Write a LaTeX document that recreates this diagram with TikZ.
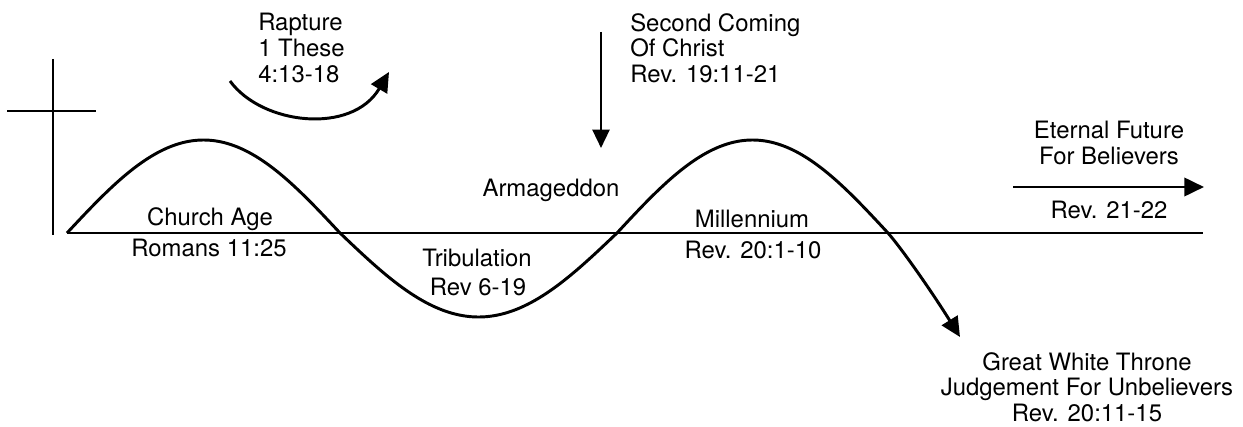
\documentclass[tikz,border=0pt]{standalone}
\usepackage{fontspec}
\setmainfont{TeX Gyre Heros}
\usetikzlibrary{arrows.meta}
\tikzset{
  lbl/.style={inner sep=0pt, font=\fontsize{17}{18.3}\selectfont, align=center},
  lbll/.style={lbl, align=left, anchor=west},
  thick line/.style={line width=2.1pt},
  tip/.style={-{Triangle[length=14pt,width=13pt]}}
}
\begin{document}
\begin{tikzpicture}[x=0.025cm,y=-0.025cm]
\useasboundingbox (0,0) rectangle (1243,427);
% cross
\draw[thick line] (53,59) -- (53,235);
\draw[thick line] (7,111) -- (96,111);
% baseline
\coordinate (b0) at (67,233);
\coordinate (b1) at (1203,233);
\draw[thick line] (b0) -- (b1);
% wave
\coordinate (gw) at (960,337);
\draw[thick line, tip, smooth, samples=60]
  plot[domain=67:340] (\x,{233-93*sin((\x-67)/273*180)})
  -- plot[domain=340:617] (\x,{233+84*sin((\x-340)/277*180)})
  -- plot[domain=617:888] (\x,{233-93*sin((\x-617)/271*180)})
  .. controls (902,249) and (932,292) .. (gw);
% rapture
\node[lbll] (rap) at (258,48) {Rapture\\1 These\\4:13-18};
\coordinate (r0) at (230,81);
\coordinate (r1) at (389,72);
\draw[thick line, tip] (r0) .. controls (262,125) and (352,135) .. (r1);
% second coming
\node[lbll] (sc) at (630,48) {Second Coming\\Of Christ\\Rev. 19:11-21};
\coordinate (s0) at (601,32);
\coordinate (s1) at (601,148);
\draw[line width=1.9pt, -{Triangle[length=13pt,width=12pt]}] (s0) -- (s1);
% labels
\node[lbl] (arm) at (551,190) {Armageddon};
\node[lbl] (ch) at (210,219) {Church Age};
\node[lbl] (rom) at (209,248) {Romans 11:25};
\node[lbl] (tr) at (477,258) {Tribulation};
\node[lbl] (tr2) at (478,287) {Rev 6-19};
\node[lbl] (mil) at (752,219) {Millennium};
\node[lbl] (mil2) at (753,250) {Rev. 20:1-10};
\node[lbl] (ef) at (1109,143) {Eternal Future\\For Believers};
\coordinate (e0) at (1013,187);
\coordinate (e1) at (1204,187);
\draw[thick line, tip] (e0) -- (e1);
\node[lbl] (ef2) at (1109,210) {Rev. 21-22};
\node[lbl] (gwt) at (1087,387) {Great White Throne\\Judgement For Unbelievers\\Rev. 20:11-15};
\end{tikzpicture}
\end{document}
